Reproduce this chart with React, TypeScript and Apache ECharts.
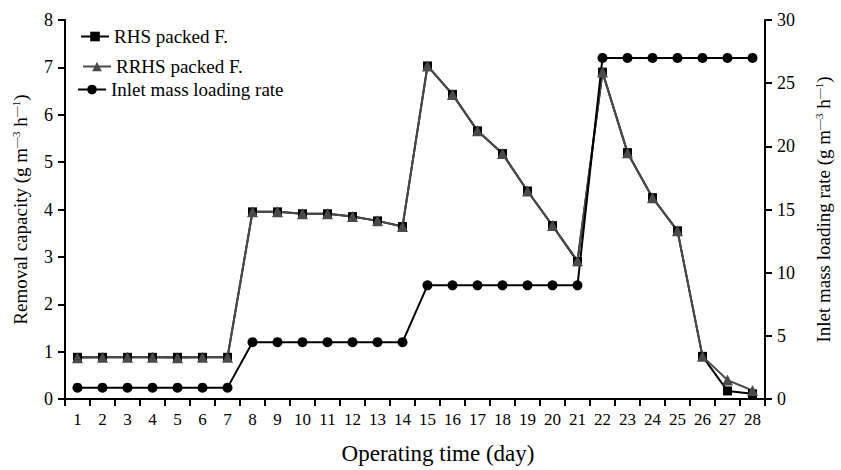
import React, { useEffect, useRef } from "react";
import * as echarts from "echarts";

// Operating days 1..28
const days = Array.from({ length: 28 }, (_, i) => String(i + 1));

// Removal capacity (g m-3 h-1), left axis
const rhsPacked = [
  0.88, 0.88, 0.88, 0.88, 0.88, 0.88, 0.88,
  3.95, 3.95, 3.91, 3.91, 3.85, 3.76, 3.64,
  7.03, 6.43, 5.66, 5.18, 4.39, 3.66, 2.9,
  6.9, 5.2, 4.25, 3.55, 0.9, 0.17, 0.11,
];
const rrhsPacked = [
  0.87, 0.88, 0.88, 0.88, 0.87, 0.88, 0.88,
  3.95, 3.95, 3.91, 3.91, 3.85, 3.76, 3.64,
  7.03, 6.43, 5.66, 5.18, 4.39, 3.66, 2.92,
  6.9, 5.2, 4.25, 3.55, 0.9, 0.4, 0.18,
];

// Inlet mass loading rate (g m-3 h-1), right axis
const inletLoading = [
  0.9, 0.9, 0.9, 0.9, 0.9, 0.9, 0.9,
  4.5, 4.5, 4.5, 4.5, 4.5, 4.5, 4.5,
  9.0, 9.0, 9.0, 9.0, 9.0, 9.0, 9.0,
  27, 27, 27, 27, 27, 27, 27,
];

const seriesNames = ["RHS packed F.", "RRHS packed F.", "Inlet mass loading rate"];

const FONT = "'Liberation Serif', 'Times New Roman', serif";

const nameRich = {
  base: { fontSize: 19, fontFamily: FONT, color: "#000", lineHeight: 22, verticalAlign: "bottom" as const },
  sup: { fontSize: 11, fontFamily: FONT, color: "#000", lineHeight: 22, verticalAlign: "bottom" as const, padding: [0, 0, 9, 0] },
};

// one legend block per series so each entry can sit on its own line
const legendSlot = (name: string, left: number, top: number) => ({
  orient: "vertical",
  left,
  top,
  padding: 0,
  itemWidth: 28,
  itemHeight: 12,
  textStyle: { fontSize: 19, fontFamily: FONT, color: "#000" },
  data: [name],
});

export default function App() {
  const ref = useRef<HTMLDivElement>(null);

  useEffect(() => {
    if (!ref.current) return;
    const chart = echarts.init(ref.current, null, { renderer: "svg" });
    const axisCommon = {
      axisLine: { show: true, lineStyle: { color: "#000", width: 2 } },
      axisTick: { show: true, length: 7, lineStyle: { color: "#000", width: 2 } },
      axisLabel: { color: "#000", fontSize: 18, fontFamily: FONT, margin: 12 },
      splitLine: { show: false },
    };
    chart.setOption({
      animation: false,
      backgroundColor: "#fff",
      grid: { left: 65, right: 68, top: 20, bottom: 65, containLabel: false },
      legend: [
        legendSlot(seriesNames[0], 80, 27),
        legendSlot(seriesNames[1], 82, 57),
        legendSlot(seriesNames[2], 77, 80),
      ],
      xAxis: {
        type: "category",
        data: days,
        boundaryGap: true,
        name: "Operating time (day)",
        nameLocation: "middle",
        nameGap: 43,
        nameTextStyle: { fontSize: 23, fontFamily: FONT, color: "#000", padding: [0, 0, 0, 46] },
        ...axisCommon,
        axisLabel: { ...axisCommon.axisLabel, fontSize: 17, interval: 0, margin: 12 },
      },
      yAxis: [
        {
          type: "value",
          min: 0,
          max: 8,
          interval: 1,
          position: "left",
          name: "{base|Removal capacity (g m}{sup|—3}{base| h}{sup|—1}{base|)}",
          nameLocation: "middle",
          nameRotate: 90,
          nameGap: 35,
          nameTextStyle: { rich: nameRich },
          ...axisCommon,
        },
        {
          type: "value",
          min: 0,
          max: 30,
          interval: 5,
          position: "right",
          name: "{base|Inlet mass loading rate (g m}{sup|—3}{base| h}{sup|—1}{base|)}",
          nameLocation: "middle",
          nameRotate: 90,
          nameGap: 46,
          nameTextStyle: { rich: nameRich },
          ...axisCommon,
        },
      ],
      series: [
        {
          name: seriesNames[0],
          type: "line",
          yAxisIndex: 0,
          data: rhsPacked,
          symbol: "rect",
          symbolSize: 9,
          itemStyle: { color: "#000" },
          lineStyle: { color: "#000", width: 2 },
        },
        {
          name: seriesNames[1],
          type: "line",
          yAxisIndex: 0,
          data: rrhsPacked,
          symbol: "triangle",
          symbolSize: 11,
          itemStyle: { color: "#4a4a4a" },
          lineStyle: { color: "#4a4a4a", width: 2 },
        },
        {
          name: seriesNames[2],
          type: "line",
          yAxisIndex: 1,
          data: inletLoading,
          symbol: "circle",
          symbolSize: 10,
          itemStyle: { color: "#000" },
          lineStyle: { color: "#000", width: 2 },
        },
      ],
    });
    return () => chart.dispose();
  }, []);

  return (
    <div
      ref={ref}
      style={{ position: "absolute", left: 0, top: 0, width: 841, height: 470 }}
    />
  );
}
